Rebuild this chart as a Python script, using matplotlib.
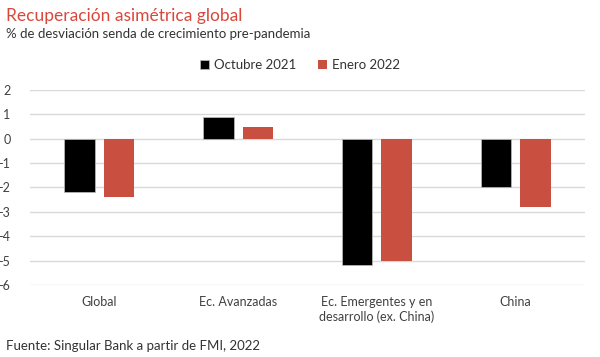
import matplotlib
matplotlib.use("Agg")
import matplotlib.pyplot as plt
import numpy as np

categories = ["Global", "Ec. Avanzadas", "Ec. Emergentes y en\ndesarrollo (ex. China)", "China"]
oct2021 = [-2.2, 0.9, -5.2, -2.0]
ene2022 = [-2.4, 0.5, -5.0, -2.8]
series_names = ["Octubre 2021", "Enero 2022"]
yticks = [2, 1, 0, -1, -2, -3, -4, -5, -6]

plt.rcParams['font.family'] = ['Lato', 'DejaVu Sans']

fig = plt.figure(figsize=(6, 3.57), dpi=100)
ax = fig.add_axes([0.05, 0.202, 0.925, 0.546])

x = np.arange(len(categories))
w = 0.22
gap = 0.065
ax.bar(x - (w + gap) / 2, oct2021, w, color="#000000", edgecolor="#bfbfbf", linewidth=0.5, label=series_names[0], zorder=3)
ax.bar(x + (w + gap) / 2, ene2022, w, color="#C94F41", label=series_names[1], zorder=3)

ax.set_ylim(-6, 2)
ax.set_xlim(-0.5, len(categories) - 0.5)
ax.set_yticks(yticks)
ax.set_yticklabels([str(v) for v in yticks], fontsize=9, color="#404040")
ax.yaxis.grid(True, color="#d9d9d9", linewidth=1, zorder=0)
ax.set_xticks(x)
ax.set_xticklabels(categories, fontsize=9, color="#404040", va="top")
ax.tick_params(axis="both", length=0)
ax.tick_params(axis="y", pad=14)
ax.tick_params(axis="x", pad=8)
for s in ax.spines.values():
    s.set_visible(False)

fig.text(0.01, 0.955, "Recuperación asimétrica global", fontsize=12.5, color="#D9473B", ha="left", va="center")
fig.text(0.01, 0.905, "% de desviación senda de crecimiento pre-pandemia", fontsize=9.5, color="#333333", ha="left", va="center")
fig.text(0.01, 0.03, "Fuente: Singular Bank a partir de FMI, 2022", fontsize=9.5, color="#333333", ha="left", va="center")

leg = fig.legend(loc="center", bbox_to_anchor=(0.5, 0.818), ncol=2, frameon=False,
                 fontsize=9.5, handlelength=0.7, handleheight=0.7, handletextpad=0.4,
                 columnspacing=1.6)
for t in leg.get_texts():
    t.set_color("#333333")

fig.savefig("out.png", dpi=100)
